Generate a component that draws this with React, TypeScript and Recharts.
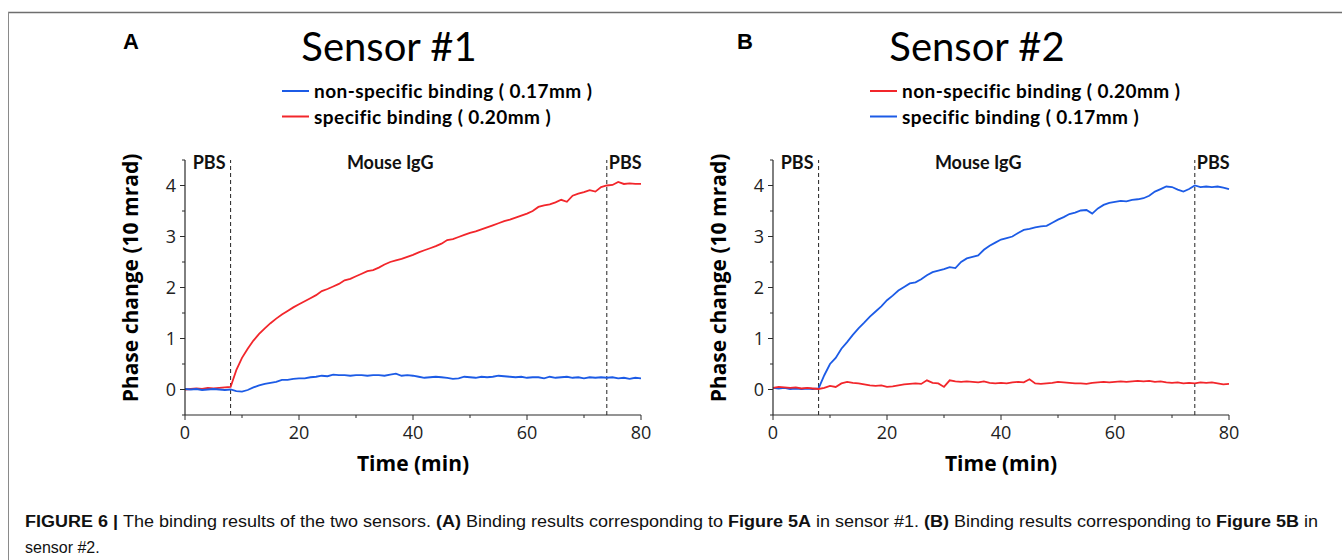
import React from 'react';
import { LineChart, Line, XAxis, YAxis, ReferenceLine } from 'recharts';

// time axis, minutes
const time = [
  0, 1, 2, 3, 4, 5, 6, 7, 8, 9, 10, 11, 12, 13, 14, 15, 16, 17, 18, 19,
  20, 21, 22, 23, 24, 25, 26, 27, 28, 29, 30, 31, 32, 33, 34, 35, 36, 37, 38, 39,
  40, 41, 42, 43, 44, 45, 46, 47, 48, 49, 50, 51, 52, 53, 54, 55, 56, 57, 58, 59,
  60, 61, 62, 63, 64, 65, 66, 67, 68, 69, 70, 71, 72, 73, 74, 75, 76, 77, 78, 79, 80,
];

// Sensor #1
const sensor1Specific = [
  0.00, 0.01, 0.02, 0.01, 0.03, 0.02, 0.03, 0.04, 0.05, 0.38,
  0.62, 0.80, 0.96, 1.09, 1.20, 1.30, 1.39, 1.47, 1.54, 1.61,
  1.67, 1.73, 1.79, 1.85, 1.93, 1.97, 2.02, 2.07, 2.14, 2.17,
  2.22, 2.27, 2.32, 2.34, 2.39, 2.45, 2.50, 2.53, 2.56, 2.60,
  2.64, 2.69, 2.73, 2.77, 2.81, 2.86, 2.93, 2.95, 2.99, 3.03,
  3.07, 3.10, 3.14, 3.18, 3.22, 3.26, 3.30, 3.33, 3.37, 3.41,
  3.45, 3.50, 3.58, 3.61, 3.63, 3.67, 3.72, 3.68, 3.80, 3.84,
  3.87, 3.91, 3.88, 3.97, 4.00, 4.01, 4.07, 4.03, 4.04, 4.03, 4.03,
];
const sensor1NonSpecific = [
  0.01, 0.00, 0.01, -0.01, 0.00, 0.01, 0.00, -0.01, 0.00, -0.03,
  -0.04, -0.01, 0.04, 0.08, 0.11, 0.13, 0.15, 0.19, 0.19, 0.21,
  0.22, 0.22, 0.24, 0.25, 0.27, 0.26, 0.29, 0.28, 0.28, 0.27,
  0.28, 0.28, 0.27, 0.28, 0.28, 0.27, 0.29, 0.31, 0.27, 0.28,
  0.27, 0.25, 0.23, 0.24, 0.25, 0.24, 0.23, 0.21, 0.22, 0.25,
  0.24, 0.23, 0.25, 0.24, 0.25, 0.27, 0.26, 0.25, 0.24, 0.25,
  0.23, 0.24, 0.24, 0.22, 0.25, 0.23, 0.24, 0.25, 0.23, 0.24,
  0.22, 0.24, 0.23, 0.24, 0.23, 0.24, 0.22, 0.23, 0.21, 0.23, 0.22,
];

// Sensor #2
const sensor2Specific = [
  0.03, 0.02, 0.03, 0.01, 0.02, 0.01, 0.02, 0.01, 0.02, 0.28,
  0.50, 0.62, 0.80, 0.93, 1.07, 1.20, 1.31, 1.43, 1.53, 1.63,
  1.75, 1.84, 1.94, 2.01, 2.08, 2.10, 2.16, 2.24, 2.30, 2.33,
  2.36, 2.40, 2.38, 2.50, 2.57, 2.60, 2.63, 2.74, 2.82, 2.88,
  2.94, 2.97, 3.00, 3.07, 3.13, 3.15, 3.18, 3.20, 3.21, 3.27,
  3.33, 3.38, 3.44, 3.47, 3.51, 3.52, 3.45, 3.55, 3.62, 3.66,
  3.68, 3.70, 3.69, 3.72, 3.73, 3.75, 3.80, 3.88, 3.93, 3.98,
  3.97, 3.92, 3.88, 3.93, 4.00, 3.97, 3.98, 3.97, 3.98, 3.96, 3.93,
];
const sensor2NonSpecific = [
  0.03, 0.05, 0.04, 0.03, 0.04, 0.02, 0.03, 0.02, 0.01, 0.03,
  0.07, 0.05, 0.12, 0.15, 0.13, 0.12, 0.10, 0.08, 0.07, 0.08,
  0.05, 0.06, 0.08, 0.10, 0.11, 0.12, 0.11, 0.18, 0.13, 0.12,
  0.05, 0.18, 0.16, 0.15, 0.16, 0.15, 0.14, 0.16, 0.13, 0.12,
  0.13, 0.12, 0.14, 0.15, 0.14, 0.20, 0.12, 0.11, 0.12, 0.13,
  0.15, 0.14, 0.13, 0.12, 0.12, 0.11, 0.13, 0.14, 0.15, 0.14,
  0.15, 0.16, 0.15, 0.16, 0.17, 0.16, 0.17, 0.15, 0.16, 0.14,
  0.13, 0.14, 0.12, 0.13, 0.12, 0.14, 0.13, 0.14, 0.12, 0.10, 0.11,
];

const xTicks = [0, 10, 20, 30, 40, 50, 60, 70, 80];
const xMajor = [0, 20, 40, 60, 80];
const yTicks = [-0.5, 0, 0.5, 1, 1.5, 2, 2.5, 3, 3.5, 4, 4.5];
const yMajor = [0, 1, 2, 3, 4];

const injectStart = 8;
const injectEnd = 74;
const mouseLabelAt = 36;

const RED = '#f2262b';
const BLUE = '#1c5be6';
const AXIS = '#2b2b2b';
const TICK_FONT = '"Open Sans", "Noto Sans", sans-serif';
const TITLE_FONT = 'Lato, "Open Sans", sans-serif';

const YTick = (props: any) => {
  const { x, y, payload } = props;
  const major = yMajor.includes(payload.value);
  return (
    <g>
      <line x1={x} y1={y} x2={x - (major ? 5 : 3)} y2={y} stroke={AXIS} strokeWidth={1} />
      {major && (
        <text x={x - 9} y={y} dy="0.36em" textAnchor="end" fontSize={18} fontFamily={TICK_FONT} fill="#222">
          {payload.value}
        </text>
      )}
    </g>
  );
};

const XTick = (props: any) => {
  const { x, y, payload } = props;
  const major = xMajor.includes(payload.value);
  return (
    <g>
      <line x1={x} y1={y} x2={x} y2={y + (major ? 5 : 3)} stroke={AXIS} strokeWidth={1} />
      {major && (
        <text x={x} y={y + 24} textAnchor="middle" fontSize={18} fontFamily={TICK_FONT} fill="#222">
          {payload.value}
        </text>
      )}
    </g>
  );
};

const phaseLabel = (text: string, side: 'left' | 'right' | 'center') => (props: any) => {
  const vb = props.viewBox || {};
  const x = side === 'left' ? vb.x - 5 : side === 'right' ? vb.x + 2 : vb.x;
  const anchor = side === 'left' ? 'end' : side === 'right' ? 'start' : 'middle';
  return (
    <text x={x} y={vb.y + 9} textAnchor={anchor} fontSize={18} fontWeight={700} fontFamily={TITLE_FONT} fill="#111">
      {text}
    </text>
  );
};

interface PanelProps {
  left: number;
  specific: number[];
  nonSpecific: number[];
  specificColor: string;
  nonSpecificColor: string;
}

const SensorPanel: React.FC<PanelProps> = ({ left, specific, nonSpecific, specificColor, nonSpecificColor }) => {
  const data = time.map((t, i) => ({ t, specific: specific[i], nonSpecific: nonSpecific[i] }));
  return (
    <div style={{ position: 'absolute', left, top: 140 }}>
      <LineChart width={600} height={340} data={data} margin={{ top: 20, right: 44, bottom: 0, left: 0 }}>
        <XAxis
          dataKey="t"
          type="number"
          domain={[0, 80]}
          ticks={xTicks}
          interval={0}
          height={65}
          tickSize={0}
          tickMargin={0}
          tickLine={false}
          tick={<XTick />}
          stroke={AXIS}
          strokeWidth={1.2}
        />
        <YAxis
          type="number"
          domain={[-0.5, 4.5]}
          ticks={yTicks}
          interval={0}
          width={100}
          tickSize={0}
          tickMargin={0}
          tickLine={false}
          tick={<YTick />}
          stroke={AXIS}
          strokeWidth={1.2}
          allowDataOverflow
        />
        <ReferenceLine x={injectStart} stroke="#222" strokeWidth={1} strokeDasharray="4 3" label={phaseLabel('PBS', 'left')} />
        <ReferenceLine x={injectEnd} stroke="#222" strokeWidth={1} strokeDasharray="4 3" label={phaseLabel('PBS', 'right')} />
        <ReferenceLine x={mouseLabelAt} stroke="none" label={phaseLabel('Mouse IgG', 'center')} />
        <Line type="linear" dataKey="specific" stroke={specificColor} strokeWidth={1.8} dot={false} isAnimationActive={false} />
        <Line type="linear" dataKey="nonSpecific" stroke={nonSpecificColor} strokeWidth={1.8} dot={false} isAnimationActive={false} />
      </LineChart>
    </div>
  );
};

const Decor: React.FC<{ axisX: number; letter: string; letterX: number; title: string; legend: { color: string; text: string }[] }> = ({
  axisX,
  letter,
  letterX,
  title,
  legend,
}) => (
  <g>
    <text x={letterX} y={49} fontSize={22} fontWeight={700} fontFamily='"Liberation Sans", Arial, sans-serif' fill="#000">
      {letter}
    </text>
    <text x={axisX + 204} y={61} textAnchor="middle" fontSize={40} fontFamily={TITLE_FONT} fill="#000">
      {title}
    </text>
    {legend.map((item, i) => (
      <g key={i}>
        <line x1={axisX + 97} x2={axisX + 124} y1={91 + i * 25.5} y2={91 + i * 25.5} stroke={item.color} strokeWidth={2} />
        <text x={axisX + 129} y={98 + i * 25.5} fontSize={19} fontWeight={700} letterSpacing={0.45} fontFamily={TITLE_FONT} fill="#000">
          {item.text}
        </text>
      </g>
    ))}
    <text
      transform={`translate(${axisX - 55}, 278) rotate(-90)`}
      textAnchor="middle"
      dominantBaseline="central"
      fontSize={21}
      fontWeight={700}
      fontFamily={TICK_FONT}
      fill="#000"
    >
      Phase change (10 mrad)
    </text>
    <text x={axisX + 228} y={471} textAnchor="middle" fontSize={21} fontWeight={700} fontFamily={TICK_FONT} fill="#000">
      Time (min)
    </text>
  </g>
);

export default function App() {
  return (
    <div style={{ position: 'absolute', left: 0, top: 0, width: 1342, height: 560, background: '#fff', overflow: 'hidden' }}>
      <SensorPanel left={85} specific={sensor1Specific} nonSpecific={sensor1NonSpecific} specificColor={RED} nonSpecificColor={BLUE} />
      <SensorPanel left={673} specific={sensor2Specific} nonSpecific={sensor2NonSpecific} specificColor={BLUE} nonSpecificColor={RED} />
      <svg width={1342} height={560} style={{ position: 'absolute', left: 0, top: 0, pointerEvents: 'none' }}>
        <line x1={8} x2={1342} y1={12.5} y2={12.5} stroke="#6e6e6e" strokeWidth={1.5} />
        <line x1={8.5} x2={8.5} y1={12} y2={560} stroke="#8a8a8a" strokeWidth={1} />
        <Decor
          axisX={185}
          letter="A"
          letterX={123}
          title="Sensor #1"
          legend={[
            { color: BLUE, text: 'non-specific binding ( 0.17mm )' },
            { color: RED, text: 'specific binding ( 0.20mm )' },
          ]}
        />
        <Decor
          axisX={773}
          letter="B"
          letterX={737}
          title="Sensor #2"
          legend={[
            { color: RED, text: 'non-specific binding ( 0.20mm )' },
            { color: BLUE, text: 'specific binding ( 0.17mm )' },
          ]}
        />
        <text x={25} y={527} fontSize={16} fontFamily='"Liberation Sans", Arial, sans-serif' fill="#111" textLength={1293} lengthAdjust="spacingAndGlyphs">
          <tspan fontWeight={700}>FIGURE 6 | </tspan>
          <tspan>The binding results of the two sensors. </tspan>
          <tspan fontWeight={700}>(A)</tspan>
          <tspan> Binding results corresponding to </tspan>
          <tspan fontWeight={700}>Figure 5A</tspan>
          <tspan> in sensor #1. </tspan>
          <tspan fontWeight={700}>(B)</tspan>
          <tspan> Binding results corresponding to </tspan>
          <tspan fontWeight={700}>Figure 5B</tspan>
          <tspan> in</tspan>
        </text>
        <text x={25} y={553} fontSize={16} fontFamily='"Liberation Sans", Arial, sans-serif' fill="#111">
          sensor #2.
        </text>
      </svg>
    </div>
  );
}
